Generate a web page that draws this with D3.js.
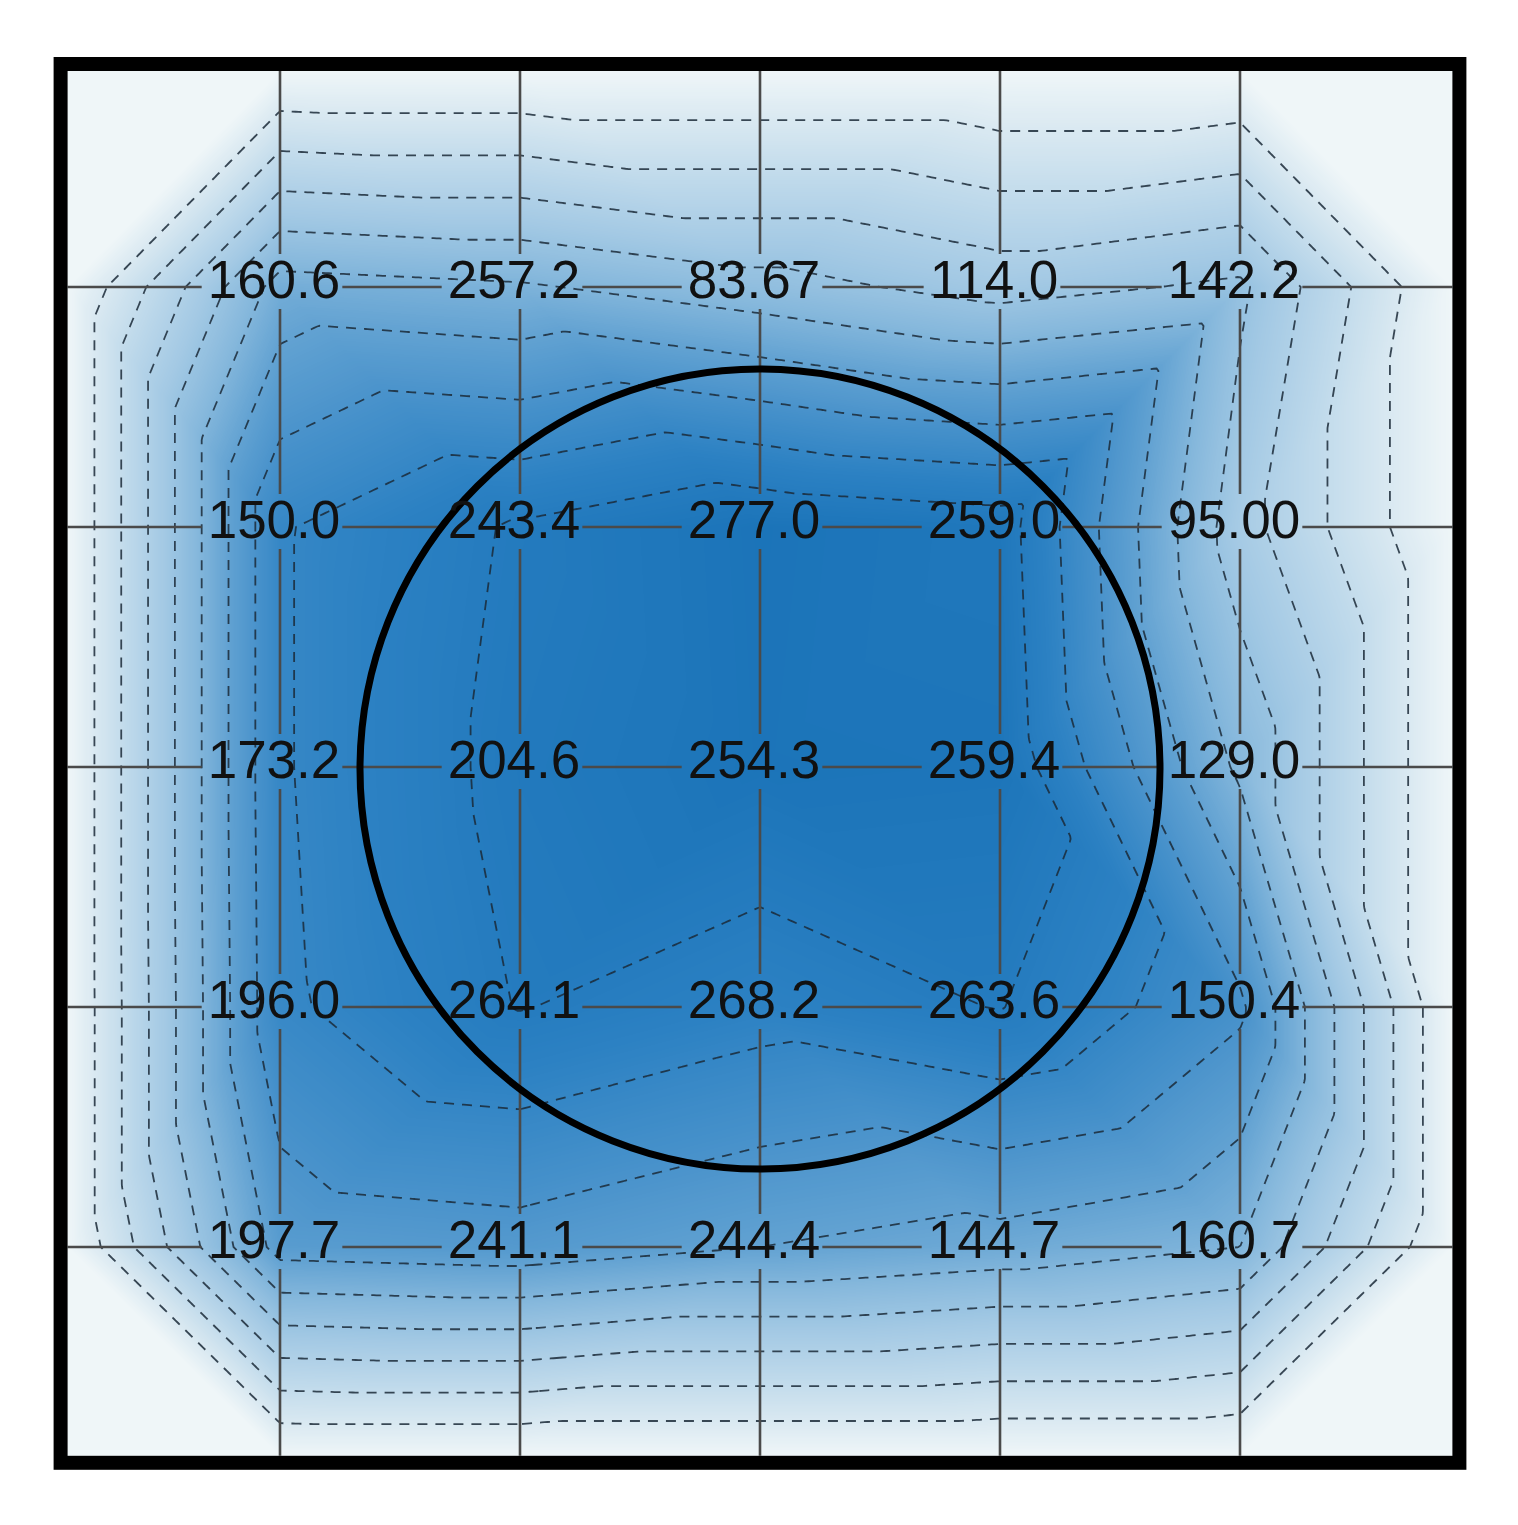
<!DOCTYPE html>
<html>
<head>
<meta charset="utf-8">
<script src="https://cdn.jsdelivr.net/npm/d3@7"></script>
<style>
  body { margin: 0; background: #fff; }
  #chart { position: relative; width: 1518px; height: 1525px; }
  #chart canvas, #chart svg { position: absolute; left: 0; top: 0; }
</style>
</head>
<body>
<div id="chart"></div>
<script>
// grid of measuring points (column / row index)
const columns = [0, 1, 2, 3, 4];
const rows = [0, 1, 2, 3, 4];

// values printed at each point, row by row from the top
const labelValues = [
  [160.6, 257.2, 83.67, 114.0, 142.2],
  [150.0, 243.4, 277.0, 259.0, 95.00],
  [173.2, 204.6, 254.3, 259.4, 129.0],
  [196.0, 264.1, 268.2, 263.6, 150.4],
  [197.7, 241.1, 244.4, 144.7, 160.7]
];

const fieldValues = [
  [135, 128, 110, 90, 105],
  [198, 228, 247, 238, 85],
  [198, 232, 246, 244, 120],
  [196, 226, 210, 226, 180],
  [160, 165, 150, 140, 125]
];

const contourLevels = [25, 50, 75, 100, 125, 150, 175, 200, 225, 250, 275];

const width = 1518, height = 1525;
const x = d3.scaleLinear().domain([0, 4]).range([280, 1240]);
const y = d3.scaleLinear().domain([0, 4]).range([287, 1247]);
const edgeX = [-0.885, 4.885], edgeY = [-0.9, 4.87];
const innerL = x(edgeX[0]), innerR = x(edgeX[1]);
const innerT = y(edgeY[0]), innerB = y(edgeY[1]);

const color = d3.scaleLinear()
  .domain([0, 30, 60, 90, 120, 150, 180, 210, 250])
  .range(["#eff6f8", "#d5e6f0", "#bbd7ea", "#a3c9e4", "#86b8dc", "#62a2d2", "#4590ca", "#2c81c3", "#1a73b8"])
  .clamp(true);

// extended node grid: a ring of zeros on the frame, corners left empty
const gx = [edgeX[0], ...columns, edgeX[1]];
const gy = [edgeY[0], ...rows, edgeY[1]];
const n = gx.length;
const nodes = gy.map((_, J) => gx.map((_, I) => {
  const ei = I === 0 || I === n - 1, ej = J === 0 || J === n - 1;
  if (ei && ej) return NaN;
  if (ei || ej) return 0;
  return fieldValues[J - 1][I - 1];
}));

// linear interpolation over triangles (diagonals point to the centre)
function field(u, v) {
  const I = Math.max(0, Math.min(n - 2, d3.bisectRight(gx, u) - 1));
  const J = Math.max(0, Math.min(n - 2, d3.bisectRight(gy, v) - 1));
  const s = (u - gx[I]) / (gx[I + 1] - gx[I]);
  const t = (v - gy[J]) / (gy[J + 1] - gy[J]);
  const a = nodes[J][I], b = nodes[J][I + 1], c = nodes[J + 1][I], d = nodes[J + 1][I + 1];
  let main = ((gx[I] + gx[I + 1]) / 2 - 2) * ((gy[J] + gy[J + 1]) / 2 - 2) > 0;
  if ((I === 0 || I === n - 2) && (J === 0 || J === n - 2)) main = !main;
  if (main) {
    return s >= t ? a + (b - a) * s + (d - b) * t : a + (c - a) * t + (d - c) * s;
  }
  return s + t <= 1 ? a + (b - a) * s + (c - a) * t : d + (c - d) * (1 - s) + (b - d) * (1 - t);
}

// shaded field on a canvas
const chart = d3.select("#chart");
const canvas = chart.append("canvas").attr("width", width).attr("height", height);
const ctx = canvas.node().getContext("2d");
const lut = d3.range(0, 281).map(v => d3.rgb(color(v)));
const empty = d3.rgb(color(0));
const px0 = Math.floor(innerL), py0 = Math.floor(innerT);
const iw = Math.ceil(innerR) - px0, ih = Math.ceil(innerB) - py0;
const img = ctx.createImageData(iw, ih);
for (let j = 0; j < ih; j++) {
  const v = y.invert(py0 + j + 0.5);
  for (let i = 0; i < iw; i++) {
    const f = field(x.invert(px0 + i + 0.5), v);
    const c = isNaN(f) ? empty : lut[Math.max(0, Math.min(280, Math.round(f)))];
    const k = (j * iw + i) * 4;
    img.data[k] = c.r; img.data[k + 1] = c.g; img.data[k + 2] = c.b; img.data[k + 3] = 255;
  }
}
ctx.putImageData(img, px0, py0);

// contour lines
const step = 3;
const nx = Math.floor((innerR - innerL) / step) + 1;
const ny = Math.floor((innerB - innerT) / step) + 1;
const grid = new Float64Array(nx * ny);
for (let j = 0; j < ny; j++) {
  for (let i = 0; i < nx; i++) {
    const f = field(x.invert(innerL + i * step), y.invert(innerT + j * step));
    grid[j * nx + i] = isNaN(f) ? 0 : f;
  }
}
const contours = d3.contours().size([nx, ny]).thresholds(contourLevels)(grid);
const toPx = d3.geoTransform({
  point(px, py) { this.stream.point(innerL + (px - 0.5) * step, innerT + (py - 0.5) * step); }
});
const path = d3.geoPath(toPx);

const svg = chart.append("svg").attr("width", width).attr("height", height);
const defs = svg.append("defs");
defs.append("clipPath").attr("id", "inner")
  .append("rect").attr("x", innerL).attr("y", innerT)
  .attr("width", innerR - innerL).attr("height", innerB - innerT);

svg.append("g")
  .attr("clip-path", "url(#inner)")
  .selectAll("path")
  .data(contours)
  .join("path")
  .attr("d", path)
  .attr("fill", "none")
  .attr("stroke", "#1b2a38")
  .attr("stroke-opacity", 0.85)
  .attr("stroke-width", 1.8)
  .attr("stroke-dasharray", "10,8");

// grid lines, cut around the labels with a mask
const mask = defs.append("mask").attr("id", "gaps");
mask.append("rect").attr("x", 0).attr("y", 0).attr("width", width).attr("height", height).attr("fill", "#fff");

const gridG = svg.append("g").attr("mask", "url(#gaps)")
  .attr("stroke", "#4a4a4a").attr("stroke-width", 2.6);
gridG.selectAll("line.v").data(columns).join("line").attr("class", "v")
  .attr("x1", d => x(d)).attr("x2", d => x(d)).attr("y1", innerT).attr("y2", innerB);
gridG.selectAll("line.h").data(rows).join("line").attr("class", "h")
  .attr("y1", d => y(d)).attr("y2", d => y(d)).attr("x1", innerL).attr("x2", innerR);

svg.append("circle")
  .attr("cx", x(2)).attr("cy", y(2) + 2)
  .attr("r", x(2 + 5 / 3) - x(2))
  .attr("fill", "none").attr("stroke", "#000").attr("stroke-width", 7);

const fmt = d3.format(".4r");
const cells = rows.flatMap(r => columns.map(c => ({ r, c, v: labelValues[r][c] })));
const labels = svg.append("g")
  .attr("font-family", "'Liberation Sans', Arial, sans-serif")
  .attr("font-size", 53)
  .attr("text-anchor", "middle")
  .attr("fill", "#111")
  .selectAll("text")
  .data(cells)
  .join("text")
  .attr("x", d => x(d.c) - 6)
  .attr("y", d => y(d.r) + 11)
  .text(d => fmt(d.v));

labels.each(function() {
  const b = this.getBBox();
  mask.append("rect")
    .attr("x", b.x - 6).attr("y", b.y + 4)
    .attr("width", b.width + 8).attr("height", b.height - 4)
    .attr("fill", "#000");
});

// frame
svg.append("rect")
  .attr("x", innerL - 7).attr("y", innerT - 7)
  .attr("width", innerR - innerL + 14).attr("height", innerB - innerT + 14)
  .attr("fill", "none").attr("stroke", "#000").attr("stroke-width", 14);
</script>
</body>
</html>
